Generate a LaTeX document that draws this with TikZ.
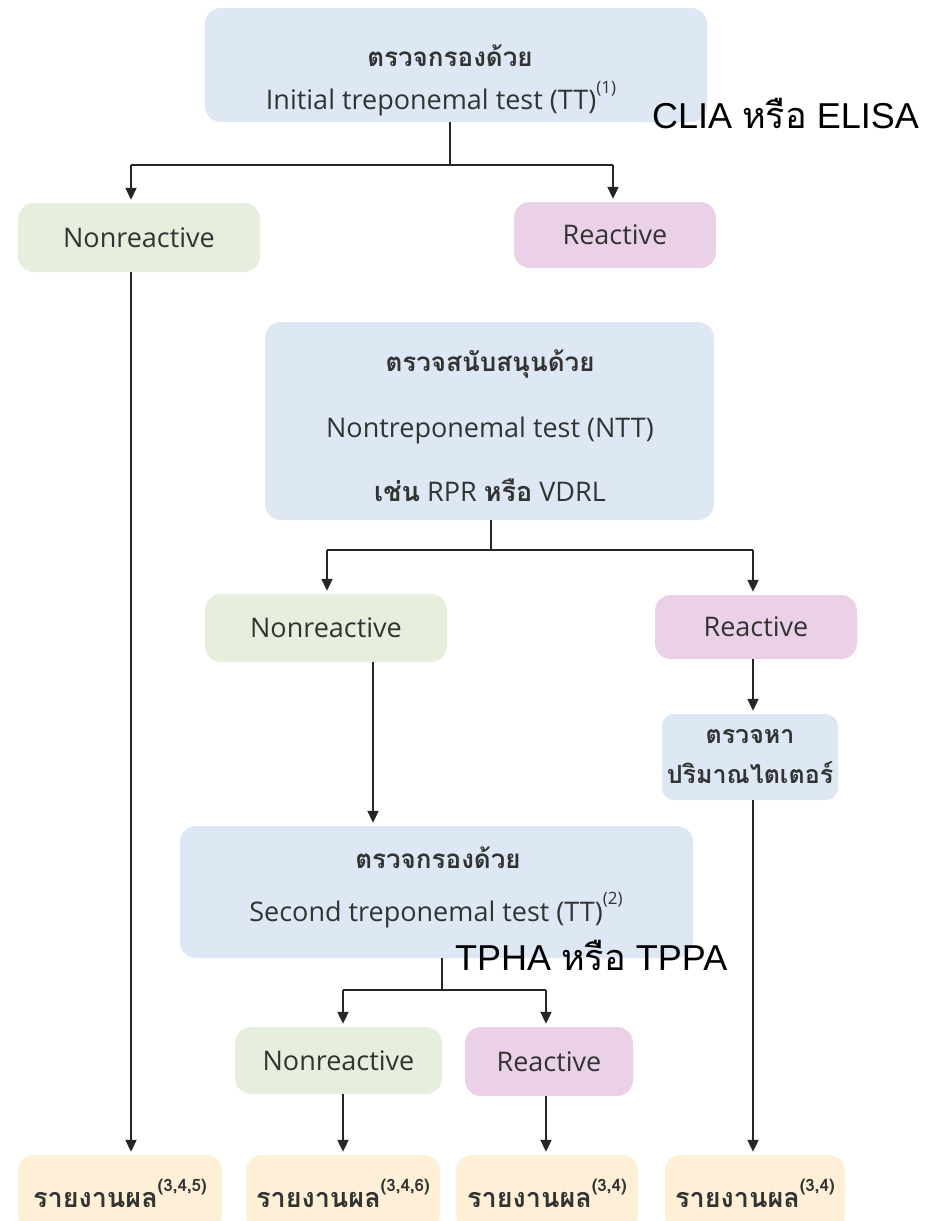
\documentclass[tikz,border=0pt]{standalone}
\usepackage{fontspec}
\setmainfont{Open Sans}
\newfontfamily\thai[Script=Thai]{Loma}
\newfontfamily\arialf{Liberation Sans}
\usetikzlibrary{arrows.meta}
\definecolor{bluebox}{HTML}{DDE8F4}
\definecolor{greenbox}{HTML}{E6EFDE}
\definecolor{pinkbox}{HTML}{EBD1E7}
\definecolor{yellowbox}{HTML}{FDF0D6}
\definecolor{txt}{HTML}{333333}
\newcommand{\supsc}[1]{\raisebox{0.6em}{\fontsize{17}{17}\selectfont(#1)}}
\begin{document}
\begin{tikzpicture}[x=1pt,y=-1pt,
  box/.style={rounded corners=16pt, inner sep=0pt, text=txt, font=\fontsize{27}{30}\selectfont},
  arr/.style={draw=black!85, line width=2pt, -{Triangle[length=12pt,width=11pt]}, shorten >=3pt},
  ln/.style={draw=black!85, line width=2pt},
  th/.style={font=\thai\bfseries\fontsize{26}{30}\selectfont, text=txt, inner sep=0pt},
  en/.style={font=\fontsize{27}{30}\selectfont, text=txt, inner sep=0pt},
  big/.style={font=\arialf\fontsize{36}{40}\selectfont, text=black, inner sep=0pt}]
\clip (0,0) rectangle (928,1221);
% ---- level 1
\node[box, fill=bluebox, minimum width=502pt, minimum height=114pt] (top) at (456,65) {};
\node[th] (toptha) at (450,56) {ตรวจกรองด้วย};
\node[en] (topen) at (441,99) {Initial treponemal test (TT)\supsc{1}};
\node[big, anchor=west] (clia) at (652,114) {CLIA {\thai หรือ} ELISA};
\node[box, fill=greenbox, minimum width=242pt, minimum height=69pt] (nr1) at (139,237.5) {Nonreactive};
\node[box, fill=pinkbox, minimum width=202pt, minimum height=66pt] (r1) at (615,235) {Reactive};
\coordinate (j1) at (450,165);
\coordinate (j1l) at (131,165);
\coordinate (j1r) at (613,165);
\draw[ln] (top.south -| j1) -- (j1);
\draw[ln] (j1l) -- (j1r);
\draw[arr] (j1l) -- (nr1.north -| j1l);
\draw[arr] (j1r) -- (r1.north -| j1r);
% ---- NTT
\node[box, fill=bluebox, minimum width=449pt, minimum height=198pt] (ntt) at (489.5,421) {};
\node[th] (ntttha) at (490,364) {ตรวจสนับสนุนด้วย};
\node[en] (ntten) at (490,430) {Nontreponemal test (NTT)};
\node[en] (nttex) at (490,490) {{\thai\bfseries เช่น} RPR {\thai\bfseries หรือ} VDRL};
\node[box, fill=greenbox, minimum width=242pt, minimum height=68pt] (nr2) at (326,628) {Nonreactive};
\node[box, fill=pinkbox, minimum width=202pt, minimum height=64pt] (r2) at (756,627) {Reactive};
\coordinate (j2) at (491,550);
\coordinate (j2l) at (327,550);
\coordinate (j2r) at (753,550);
\draw[ln] (ntt.south -| j2) -- (j2);
\draw[ln] (j2l) -- (j2r);
\draw[arr] (j2l) -- (nr2.north -| j2l);
\draw[arr] (j2r) -- (r2.north -| j2r);
% ---- titer
\node[box, rounded corners=12pt, fill=bluebox, minimum width=176pt, minimum height=86pt, font=\thai\bfseries\fontsize{25}{40}\selectfont, align=center] (titer) at (750,757) {ตรวจหา\\ปริมาณไตเตอร์};
\coordinate (xt) at (753,0);
\draw[arr] (r2.south -| xt) -- (titer.north -| xt);
% ---- second TT
\node[box, fill=bluebox, minimum width=513pt, minimum height=132pt] (sec) at (436.5,892) {};
\draw[arr] (nr2.south -| 373,0) -- (sec.north -| 373,0);
\node[th] (sectha) at (438,858) {ตรวจกรองด้วย};
\node[en] (secen) at (436,910) {Second treponemal test (TT)\supsc{2}};
\node[big, anchor=west] (tpha) at (455,955) {TPHA {\thai หรือ} TPPA};
\node[box, fill=greenbox, minimum width=207pt, minimum height=67pt] (nr3) at (338.5,1060.5) {Nonreactive};
\node[box, fill=pinkbox, minimum width=168pt, minimum height=69pt] (r3) at (549,1061.5) {Reactive};
\coordinate (j3) at (442,990);
\coordinate (j3l) at (343,990);
\coordinate (j3r) at (546,990);
\draw[ln] (sec.south -| j3) -- (j3);
\draw[ln] (j3l) -- (j3r);
\draw[arr] (j3l) -- (nr3.north -| j3l);
\draw[arr] (j3r) -- (r3.north -| j3r);
% ---- bottom reports
\tikzset{rep/.style={box, fill=yellowbox, minimum height=76pt, font=\thai\bfseries\fontsize{27}{30}\selectfont}}
\node[rep, minimum width=204pt] (b1) at (120,1193) {รายงานผล\supsc{3,4,5}};
\node[rep, minimum width=194pt] (b2) at (343,1193) {รายงานผล\supsc{3,4,6}};
\node[rep, minimum width=182pt] (b3) at (547,1193) {รายงานผล\supsc{3,4}};
\node[rep, minimum width=180pt] (b4) at (755,1193) {รายงานผล\supsc{3,4}};
\draw[arr] (nr1.south -| j1l) -- (b1.north -| j1l);
\draw[arr] (nr3.south -| j3l) -- (b2.north -| j3l);
\draw[arr] (r3.south -| j3r) -- (b3.north -| j3r);
\draw[arr] (titer.south -| xt) -- (b4.north -| xt);
\end{tikzpicture}
\end{document}
